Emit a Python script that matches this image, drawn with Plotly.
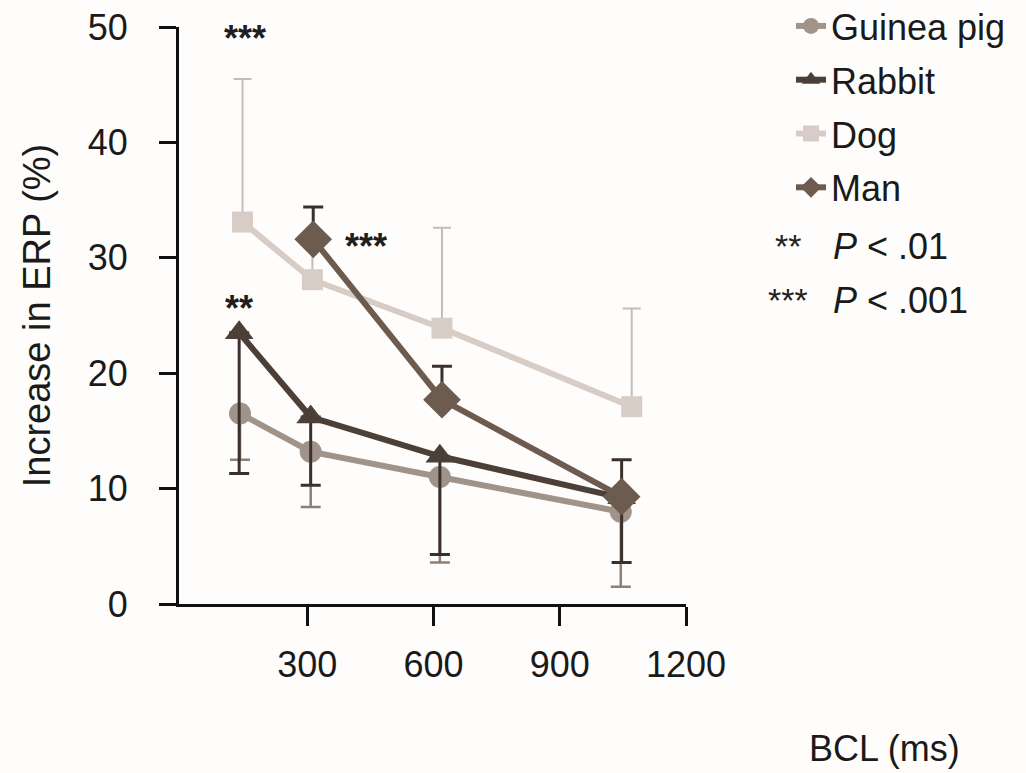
import plotly.graph_objects as go

# Basic cycle length (ms) and mean increase in ERP (%) per species
gp_x = [140, 308, 615, 1045]
gp_y = [16.5, 13.2, 11.0, 8.0]
gp_lo = [12.5, 8.4, 3.6, 1.5]          # lower end of error bar

rb_x = [138, 308, 615, 1047]
rb_y = [23.5, 16.2, 12.8, 9.2]
rb_lo = [11.3, 10.3, 4.3, 3.6]

dog_x = [146, 312, 620, 1071]
dog_y = [33.1, 28.1, 23.9, 17.1]
dog_hi = [45.5, 31.0, 32.6, 25.6]      # upper end of error bar

man_x = [314, 620, 1047]
man_y = [31.6, 17.7, 9.3]
man_hi = [34.4, 20.6, 12.5]

x_ticks = [300, 600, 900, 1200]
y_ticks = [0, 10, 20, 30, 40, 50]

# significance marks: (x, y, label)
sig_marks = [(152, 49.6, "***"), (138, 26.2, "**"), (439, 31.6, "***")]

FONT = "Liberation Sans, Arial, Helvetica, sans-serif"
C_GP = "#a09389"
C_RB = "#4c3f38"
C_DOG = "#d8cdc6"
C_MAN = "#6e5b4f"

# plot-area geometry (pixels) used to place paper-referenced text
L, R, T, B = 179, 686, 27, 604
W, H = 1026, 773


def px(xp):
    return (xp - L) / (R - L)


def py(yp):
    return (B - yp) / (B - T)


def down(vals, lows):
    return [v - lo for v, lo in zip(vals, lows)]


def up(vals, highs):
    return [hi - v for v, hi in zip(vals, highs)]


fig = go.Figure()

# Dog
fig.add_trace(go.Scatter(
    x=dog_x, y=dog_y, name="Dog", mode="lines+markers", legendrank=3,
    legendgroup="dog",
    line=dict(color=C_DOG, width=6),
    marker=dict(symbol="square", size=21, color=C_DOG),
    error_y=dict(type="data", symmetric=False, array=up(dog_y, dog_hi),
                 arrayminus=[0] * len(dog_y), color="#c7bcb5",
                 thickness=2, width=9),
))

# Guinea pig
fig.add_trace(go.Scatter(
    x=gp_x, y=gp_y, name="Guinea pig", mode="lines+markers", legendrank=1,
    legendgroup="gp",
    line=dict(color=C_GP, width=6),
    marker=dict(symbol="circle", size=22, color=C_GP),
    error_y=dict(type="data", symmetric=False, array=[0] * len(gp_y),
                 arrayminus=down(gp_y, gp_lo), color="#8c8079",
                 thickness=2.5, width=10),
))

# Rabbit
fig.add_trace(go.Scatter(
    x=rb_x, y=rb_y, name="Rabbit", mode="lines+markers", legendrank=2,
    legendgroup="rb",
    line=dict(color=C_RB, width=6),
    marker=dict(symbol="triangle-up", size=25, color=C_RB),
    error_y=dict(type="data", symmetric=False, array=[0] * len(rb_y),
                 arrayminus=down(rb_y, rb_lo), color="#3b302b",
                 thickness=3, width=10),
))

# Man
fig.add_trace(go.Scatter(
    x=man_x, y=man_y, name="Man", mode="lines+markers", legendrank=4,
    legendgroup="man",
    line=dict(color=C_MAN, width=6),
    marker=dict(symbol="diamond", size=29, color=C_MAN),
    error_y=dict(type="data", symmetric=False, array=up(man_y, man_hi),
                 arrayminus=[0] * len(man_y), color="#3b302b",
                 thickness=3, width=10),
))

annotations = []
for sx, sy, lab in sig_marks:
    annotations.append(dict(x=sx, y=sy, xref="x", yref="y", text="<b>" + lab + "</b>",
                            showarrow=False, yshift=-7,
                            font=dict(size=36, color="#1e1e1e", family=FONT)))

# significance key below the legend
for ypix, star, txt in [(246, "**", "<i>P</i> < .01"), (300, "***", "<i>P</i> < .001")]:
    annotations.append(dict(x=px(788), y=py(ypix), xref="paper", yref="paper",
                            text=star, showarrow=False, xanchor="center",
                            yanchor="middle",
                            font=dict(size=34, color="#222", family=FONT)))
    annotations.append(dict(x=px(831), y=py(ypix), xref="paper", yref="paper",
                            text=txt, showarrow=False, xanchor="left",
                            yanchor="middle",
                            font=dict(size=36, color="#1a1a1a", family=FONT)))

# x axis title
annotations.append(dict(x=px(884), y=py(748), xref="paper", yref="paper",
                        text="BCL (ms)", showarrow=False, xanchor="center",
                        yanchor="middle",
                        font=dict(size=36, color="#1a1a1a", family=FONT)))

fig.update_layout(
    width=W, height=H,
    margin=dict(l=L, r=W - R, t=T, b=H - B, pad=0, autoexpand=False),
    paper_bgcolor="#fefdfb", plot_bgcolor="#fefdfb",
    font=dict(family=FONT, size=36, color="#1a1a1a"),
    showlegend=True,
    legend=dict(x=px(791), y=py(-4), xanchor="left", yanchor="top",
                xref="paper", yref="paper", bgcolor="rgba(0,0,0,0)",
                font=dict(size=36, family=FONT, color="#1a1a1a"),
                tracegroupgap=4, itemsizing="trace"),
    annotations=annotations,
)

fig.update_xaxes(
    range=[-5, 1200], tickvals=x_ticks, ticktext=[str(v) for v in x_ticks],
    showgrid=False, zeroline=False, showline=True, linecolor="#111",
    linewidth=3, ticks="outside", ticklen=19, tickwidth=2.5, tickcolor="#111",
    tickfont=dict(size=36, family=FONT, color="#1a1a1a"),
    ticklabelstandoff=8,
)
fig.update_yaxes(
    range=[0, 50], tickvals=y_ticks, showgrid=False, zeroline=False,
    showline=True, linecolor="#111", linewidth=3, ticks="outside",
    ticklen=17, tickwidth=2.5, tickcolor="#111",
    tickfont=dict(size=36, family=FONT, color="#1a1a1a"),
    ticklabelstandoff=24,
    title=dict(text="Increase in ERP (%)", standoff=26,
               font=dict(size=38, family=FONT, color="#1a1a1a")),
)

fig.write_html("out.html")
